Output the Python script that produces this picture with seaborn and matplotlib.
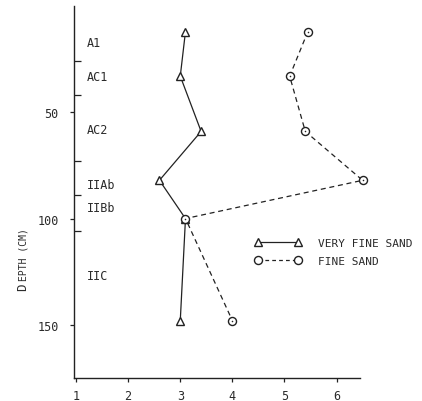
import matplotlib
matplotlib.use('Agg')
import matplotlib.pyplot as plt
import seaborn as sns
import pandas as pd
from matplotlib.lines import Line2D

# ---- data ----
depth = [12, 33, 59, 82, 100, 148]
very_fine_sand = [3.1, 3.0, 3.4, 2.6, 3.1, 3.0]
fine_sand = [5.45, 5.1, 5.4, 6.5, 3.1, 4.0]
series_names = ['VERY FINE SAND', 'FINE SAND']
horizons = ['A1', 'AC1', 'AC2', 'IIAb', 'IIBb', 'IIC']
horizon_label_depth = [17, 33, 58, 84, 95, 127]
horizon_bounds = [26, 42, 73, 89, 106]
y_ticks = [50, 100, 150]
x_ticks = [1, 2, 3, 4, 5, 6]

INK = '#222222'
TXT = '#2a2a2a'
MONO = 'DejaVu Sans Mono'

sns.set_style('ticks')
plt.rcParams['font.family'] = [MONO]

W, H = 422, 402
fig = plt.figure(figsize=(W / 100, H / 100), dpi=100)
ax = fig.add_axes([74 / W, 1 - 379 / H, (360 - 74) / W, (379 - 7) / H])

df = pd.DataFrame({
    'depth': depth + depth,
    'value': very_fine_sand + fine_sand,
    'series': [series_names[0]] * len(depth) + [series_names[1]] * len(depth),
})

sns.lineplot(data=df, x='value', y='depth', hue='series', style='series',
             palette={series_names[0]: INK, series_names[1]: INK},
             dashes={series_names[0]: '', series_names[1]: (4, 3)},
             markers={series_names[0]: '^', series_names[1]: 'o'},
             sort=False, orient='y', estimator=None, legend=False,
             linewidth=0.9, markersize=5.8, markerfacecolor='white',
             markeredgecolor=INK, markeredgewidth=1.0, ax=ax, clip_on=False)
# centre dot of the circles
sns.scatterplot(x=fine_sand, y=depth, marker='.', s=5, color=INK,
                linewidth=0, ax=ax, clip_on=False, zorder=5)

ax.set_xlim(0.96, 6.45)
ax.set_ylim(175, 0)
ax.set_xticks(x_ticks)
ax.set_xticklabels([str(t) for t in x_ticks])
ax.set_yticks(y_ticks)
ax.set_yticklabels([str(t) for t in y_ticks])
ax.set_yticks(horizon_bounds, minor=True)
ax.set_xlabel('')
ax.set_ylabel('')

for s in ['top', 'right']:
    ax.spines[s].set_visible(False)
for s in ['left', 'bottom']:
    ax.spines[s].set_color(INK)
    ax.spines[s].set_linewidth(1.0)

ax.tick_params(axis='both', which='major', direction='out', length=3,
               width=0.9, color=INK, labelsize=8.5, labelcolor=TXT)
ax.tick_params(axis='y', which='major', pad=8)
ax.tick_params(axis='x', which='major', pad=5)
ax.tick_params(axis='y', which='minor', direction='in', length=5,
               width=0.9, color=INK)

for name, d in zip(horizons, horizon_label_depth):
    ax.text(1.21, d, name, ha='left', va='center', fontsize=8.5,
            color=TXT, family=MONO)

# y-axis title in small caps style
fig.text(26 / W, 1 - 291 / H, 'D', rotation=90, rotation_mode='anchor',
         ha='left', va='baseline', fontsize=9, color=TXT, family=MONO)
fig.text(26 / W, 1 - 281 / H, 'EPTH (CM)', rotation=90, rotation_mode='anchor',
         ha='left', va='baseline', fontsize=7, color=TXT, family=MONO)

handles = [
    Line2D([], [], color=INK, lw=0.9, marker='^', markersize=5.8,
           markerfacecolor='white', markeredgecolor=INK, markeredgewidth=1.0),
    Line2D([], [], color=INK, lw=0.9, ls=(0, (3, 2.5)), marker='o', markersize=5.8,
           markerfacecolor='white', markeredgecolor=INK, markeredgewidth=1.0),
]
ax.legend(handles, series_names, loc='upper left',
          bbox_to_anchor=(254.7 / W, 1 - 239 / H), bbox_transform=fig.transFigure,
          frameon=False, numpoints=2, handlelength=4.2, handletextpad=1.5,
          labelspacing=0.7, borderpad=0, borderaxespad=0,
          prop={'family': MONO, 'size': 8}, labelcolor=TXT)

fig.savefig('out.png', dpi=100, facecolor='white')
